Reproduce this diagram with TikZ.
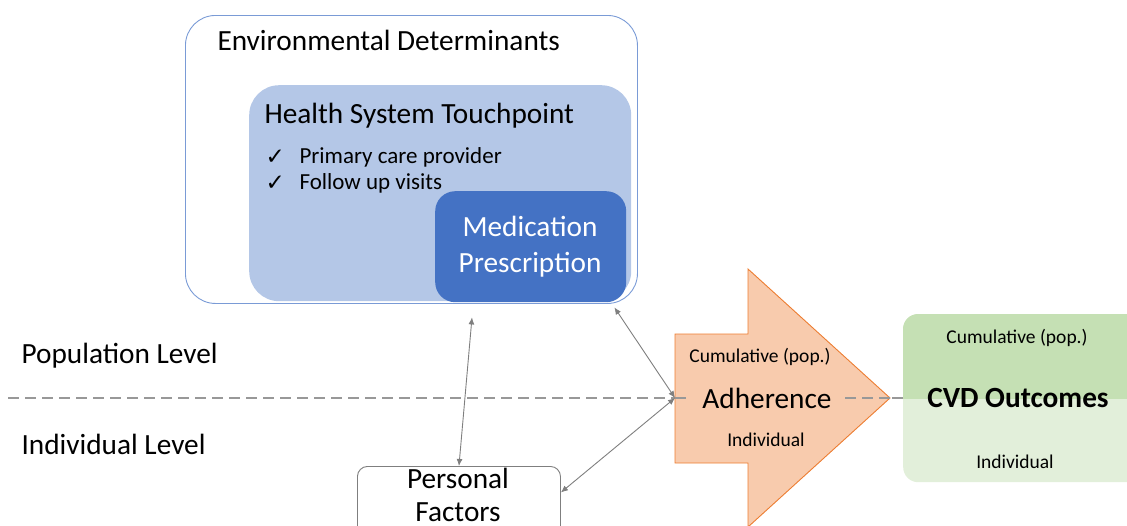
\documentclass[tikz,border=0pt]{standalone}
\usepackage{fontspec}
\setmainfont{Carlito}
\newfontfamily\symfont{DejaVu Sans}
\usepackage{xcolor}
\usetikzlibrary{arrows.meta}
\definecolor{envline}{HTML}{7A9BD6}
\definecolor{hsfill}{HTML}{B4C7E7}
\definecolor{medfill}{HTML}{4472C4}
\definecolor{adhfill}{HTML}{F8CBAD}
\definecolor{adhline}{HTML}{ED7D31}
\definecolor{cvdtop}{HTML}{C5E0B4}
\definecolor{cvdbot}{HTML}{E2EFDA}
\definecolor{linkgray}{HTML}{7F7F7F}
\newcommand{\bigfont}{\fontsize{29.3}{36}\selectfont}
\newcommand{\midfont}{\fontsize{23}{26}\selectfont}
\newcommand{\smallfont}{\fontsize{19.5}{22}\selectfont}

\begin{document}
\begin{tikzpicture}[x=1pt, y=-1pt,
		box/.style={anchor=north west, inner sep=0pt},
		link/.style={{Latex[length=7pt,width=6pt]}-{Latex[length=7pt,width=6pt]}, linkgray, line width=0.9pt}]
		\useasboundingbox (0,0) rectangle (1127,525);
		% Environmental determinants
		\node[box, draw=envline, line width=0.9pt, rounded corners=30,
			minimum width=452, minimum height=288] (env) at (185,15) {};
		\node[anchor=west, font=\bigfont] (envtitle) at (214,40) {Environmental Determinants};
		% Health system touchpoint
		\node[box, fill=hsfill, rounded corners=30,
			minimum width=382, minimum height=216] (hs) at (249,85) {};
		\node[anchor=west, font=\bigfont] (hstitle) at (261,116) {Health System Touchpoint};
		\node[anchor=west, font=\midfont\symfont] (chk1) at (262,157) {✓};
		\node[anchor=west, font=\midfont] (item1) at (296,157) {Primary care provider};
		\node[anchor=west, font=\midfont\symfont] (chk2) at (262,183) {✓};
		\node[anchor=west, font=\midfont] (item2) at (296,183) {Follow up visits};
		% Medication prescription
		\node[box, fill=medfill, rounded corners=20,
			minimum width=191, minimum height=111] (med) at (435,191) {};
		\node[font=\bigfont, text=white, align=center] (medtext) at (530,247) {Medication\\Prescription};
		% Levels
		\node[anchor=west, font=\bigfont] (pop) at (18,356) {Population Level};
		\node[anchor=west, font=\bigfont] (ind) at (18,444) {Individual Level};
		\draw[dashed, dash pattern=on 11pt off 6pt, linkgray!80, line width=1.2pt] (8,398) -- (903,398);
		% Adherence arrow
		\draw[draw=adhline, fill=adhfill, line width=0.9pt]
			(675,334) -- (748,334) -- (748,269) -- (890,398) -- (748,527)
			-- (748,463) -- (675,463) -- cycle;
		\draw[dashed, dash pattern=on 11pt off 6pt, linkgray!80, line width=1.2pt] (675,398) -- (903,398);
		\coordinate (adhin) at (675,398);
		\node[font=\smallfont] (adhpop) at (760,357) {Cumulative (pop.)};
		\node[font=\bigfont, fill=adhfill, inner xsep=12pt, inner ysep=2pt] (adh) at (767,398) {Adherence};
		\node[font=\smallfont] (adhind) at (766,440) {Individual};
		% CVD outcomes
		\node[box, fill=cvdbot, rounded corners=15,
			minimum width=260, minimum height=168] (cvd) at (903,314) {};
		\begin{scope}
			\clip (903,314) rectangle (1170,398);
			\fill[cvdtop, rounded corners=15] (cvd.north west) rectangle (cvd.south east);
		\end{scope}
		\node[font=\smallfont] (cvdpop) at (1017,338) {Cumulative (pop.)};
		\node[font=\bigfont\bfseries] (cvdtext) at (1018,398) {CVD Outcomes};
		\node[font=\smallfont] (cvdind) at (1015,462) {Individual};
		% Personal factors
		\node[box, draw=linkgray, fill=white, line width=0.9pt, rounded corners=10,
			minimum width=203, minimum height=80] (pers) at (357,466) {};
		\node[font=\fontsize{29.3}{33}\selectfont, align=center] (perstext) at (458,495) {Personal\\Factors};
		% Links
		\draw[link] ([shift={(37,15)}]med.south west) -- (pers.north);
		\draw[link] ([shift={(-12,5)}]med.south east) -- (adhin);
		\draw[link] (adhin) -- ([yshift=14pt]pers.east);
\end{tikzpicture}
\end{document}
